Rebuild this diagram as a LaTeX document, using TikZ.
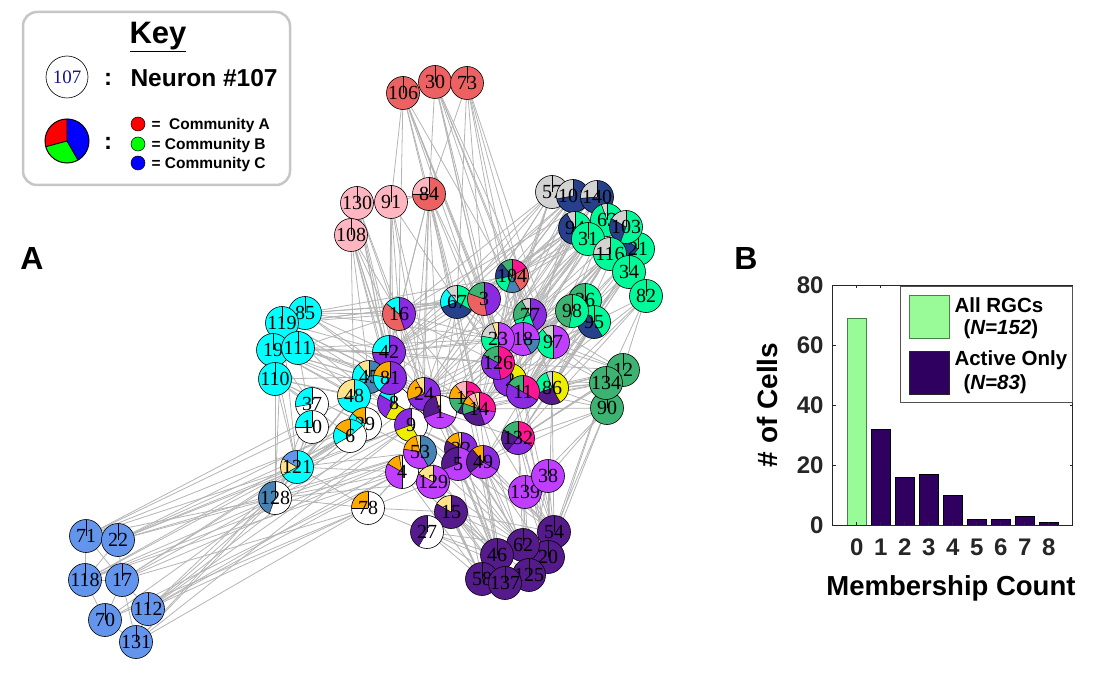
\documentclass[tikz,border=0pt]{standalone}
\usepackage{fontspec}
\setmainfont{Liberation Serif}
\newfontfamily\arialf{Liberation Sans}
\usetikzlibrary{backgrounds}
\definecolor{cr}{RGB}{236,98,98}
\definecolor{cpk}{RGB}{255,182,193}
\definecolor{cgy}{RGB}{211,211,211}
\definecolor{cdb}{RGB}{39,64,139}
\definecolor{csg}{RGB}{0,250,154}
\definecolor{cmsg}{RGB}{60,179,113}
\definecolor{ccy}{RGB}{0,255,255}
\definecolor{cw}{RGB}{255,255,255}
\definecolor{csb}{RGB}{70,130,180}
\definecolor{ccb}{RGB}{100,149,237}
\definecolor{cpu}{RGB}{138,43,226}
\definecolor{cpl}{RGB}{191,62,255}
\definecolor{cp4}{RGB}{85,26,139}
\definecolor{corg}{RGB}{255,170,0}
\definecolor{cky}{RGB}{255,228,140}
\definecolor{cye}{RGB}{238,238,0}
\definecolor{cdp}{RGB}{255,20,147}
\definecolor{edgec}{RGB}{180,180,180}
\definecolor{axc}{RGB}{38,38,38}
\definecolor{barg}{RGB}{152,251,152}
\definecolor{bargd}{RGB}{70,130,70}
\definecolor{barp}{RGB}{48,0,96}
\definecolor{navyt}{RGB}{20,20,140}
\def\pieR{16.5}
\newcommand\pienode[3]{%
  \begin{scope}[shift={(#2)}]
    \foreach \c/\a/\b in {#3}{\fill[\c] (0,0) -- (\a:\pieR) arc[start angle=\a,end angle=\b,radius=\pieR] -- cycle;}
    \foreach \c/\a/\b in {#3}{\draw[wedgeline] (0,0) -- (\a:\pieR);}
  \end{scope}
  \node[pien] (n#1) at (#2) {#1};
}
\tikzset{
  pien/.style={circle, draw=black, line width=0.6pt, minimum size=33pt, inner sep=0pt, font=\fontsize{20}{20}\selectfont},
  wedgeline/.style={draw=black, line width=0.5pt},
  edge/.style={draw=edgec, line width=0.8pt},
  boldsans/.style={font=\arialf\bfseries\fontsize{#1}{#1}\selectfont},
}
\begin{document}
\begin{tikzpicture}[x=1pt,y=1pt]
\useasboundingbox (0,0) rectangle (1095,-695);

% ---------- network nodes ----------
\pienode{106}{403,-93}{cr/90/450}
\pienode{30}{435,-82}{cr/90/450}
\pienode{73}{467,-83}{cr/90/450}
\pienode{130}{357,-203}{cpk/90/450}
\pienode{91}{391,-202}{cpk/90/450}
\pienode{108}{351,-235}{cpk/90/450}
\pienode{84}{429,-194}{cpk/90/180,cr/180/450}
\pienode{57}{552,-192}{cgy/90/450}
\pienode{101}{573,-196}{cgy/90/190,cdb/190/450}
\pienode{140}{597,-197}{cgy/90/185,cdb/185/450}
\pienode{21}{638,-249}{csg/90/140,cdb/140/230,csg/230/450}
\pienode{63}{607,-220}{cgy/90/110,csg/110/450}
\pienode{103}{626,-227}{cgy/90/150,cdb/150/250,csg/250/450}
\pienode{94}{575,-228}{cgy/90/120,cdb/120/290,csg/290/450}
\pienode{31}{588,-239}{csg/90/450}
\pienode{116}{610,-254}{cgy/90/180,csg/180/450}
\pienode{34}{629,-272}{csg/90/450}
\pienode{82}{646,-296}{csg/90/450}
\pienode{26}{585,-300}{cmsg/90/270,csg/270/450}
\pienode{95}{594,-322}{csg/90/130,cdb/130/300,csg/300/450}
\pienode{98}{572,-311}{cmsg/90/260,csg/260/450}
\pienode{104}{512,-276}{cmsg/90/130,cdb/130/190,csg/190/250,csb/250/300,cr/300/390,cdp/390/450}
\pienode{67}{457,-302}{cgy/90/130,ccy/130/200,cdb/200/330,csg/330/450}
\pienode{3}{484,-299}{cmsg/90/160,cr/160/280,cpu/280/450}
\pienode{77}{530,-315}{cgy/90/120,cmsg/120/200,csg/200/290,cpu/290/450}
\pienode{16}{399,-314}{ccy/90/140,cr/140/290,cpu/290/450}
\pienode{97}{553,-342}{cgy/90/130,csg/130/270,cpl/270/450}
\pienode{18}{523,-339}{cpl/90/300,csb/300/360,cpl/360/450}
\pienode{23}{498,-339}{cky/90/110,cgy/110/170,csg/170/270,cpl/270/450}
\pienode{2}{510,-380}{cpu/90/360,cye/360/450}
\pienode{126}{498,-363}{cmsg/90/150,cpu/150/280,cdp/280/450}
\pienode{86}{552,-388}{cgy/90/110,csg/110/200,cp4/200/300,cye/300/450}
\pienode{11}{523,-392}{cmsg/90/150,cpu/150/330,cdp/330/450}
\pienode{12}{623,-370}{cmsg/90/450}
\pienode{90}{607,-408}{cmsg/90/450}
\pienode{134}{606,-383}{cmsg/90/450}
\pienode{85}{305,-313}{ccy/90/450}
\pienode{119}{282,-323}{ccy/90/450}
\pienode{19}{273,-350}{ccy/90/450}
\pienode{111}{298,-348}{ccy/90/450}
\pienode{110}{275,-379}{ccy/90/450}
\pienode{42}{389,-352}{ccy/90/180,cpu/180/450}
\pienode{8}{394,-403}{ccy/90/150,cpu/150/240,cye/240/330,cw/330/450}
\pienode{45}{369,-377}{cky/90/130,ccy/130/230,csb/230/450}
\pienode{81}{390,-378}{corg/90/170,ccy/170/230,cpu/230/450}
\pienode{48}{354,-396}{cky/90/190,ccy/190/450}
\pienode{37}{312,-404}{ccy/90/190,cw/190/450}
\pienode{10}{312,-427}{ccy/90/180,cw/180/450}
\pienode{29}{365,-424}{corg/90/140,ccy/140/250,cw/250/450}
\pienode{6}{350,-436}{corg/90/150,ccy/150/210,cw/210/400,ccy/400/450}
\pienode{24}{424,-394}{cky/90/120,corg/120/200,cpu/200/450}
\pienode{9}{411,-425}{cpu/90/200,cye/200/300,cw/300/450}
\pienode{1}{440,-412}{cky/90/105,cp4/105/200,cpl/200/340,cw/340/450}
\pienode{13}{466,-398}{cpk/90/130,corg/130/180,cmsg/180/240,cp4/240/330,cdp/330/450}
\pienode{14}{479,-409}{cky/90/105,cpk/105/130,corg/130/160,cmsg/160/200,cp4/200/290,cpl/290/350,cdp/350/450}
\pienode{132}{518,-438}{cmsg/90/150,cp4/150/230,cpu/230/330,cdp/330/450}
\pienode{121}{297,-467}{ccb/90/150,cky/150/210,ccy/210/450}
\pienode{128}{275,-498}{csb/90/250,cw/250/450}
\pienode{4}{402,-472}{cky/90/100,corg/100/150,cpl/150/270,cw/270/450}
\pienode{53}{420,-452}{cky/90/105,corg/105/170,cpl/170/300,csb/300/450}
\pienode{32}{461,-449}{cky/90/100,corg/100/150,cp4/150/250,cpu/250/450}
\pienode{5}{458,-464}{cp4/90/200,cpl/200/450}
\pienode{49}{483,-462}{corg/90/130,cp4/130/220,cpl/220/330,cpu/330/450}
\pienode{129}{433,-482}{cky/90/150,cpl/150/450}
\pienode{139}{525,-492}{cpl/90/450}
\pienode{38}{548,-476}{cpl/90/450}
\pienode{78}{368,-508}{corg/90/180,cw/180/450}
\pienode{15}{451,-512}{cky/90/150,cp4/150/450}
\pienode{27}{427,-532}{cp4/90/240,cw/240/450}
\pienode{54}{554,-532}{cp4/90/450}
\pienode{20}{548,-557}{cp4/90/450}
\pienode{62}{523,-545}{cp4/90/450}
\pienode{46}{497,-555}{cp4/90/450}
\pienode{125}{529,-575}{cp4/90/450}
\pienode{58}{482,-579}{cp4/90/450}
\pienode{137}{505,-583}{cp4/90/450}
\pienode{71}{86,-536}{ccb/90/450}
\pienode{22}{118,-540}{ccb/90/450}
\pienode{118}{85,-580}{ccb/90/450}
\pienode{17}{122,-580}{ccb/90/450}
\pienode{112}{148,-609}{ccb/90/450}
\pienode{70}{105,-620}{ccb/90/450}
\pienode{131}{136,-642}{ccb/90/450}

% ---------- edges ----------
\begin{pgfonlayer}{background}
\foreach \s/\tl in {
 106/{91,84,16,3,23,77,126,11,14},
 30/{84,3,23,18,126,104,77,97},
 73/{84,3,67,97,86,11,18},
 84/{16,42,24,1,14,23,67,126,9,53,49,130,91},
 91/{16,42,24,1,8,67,81,130},
 130/{16,42,81,24,9,8,108},
 108/{16,42,45,81,8,24,53,48},
 57/{67,3,23,126,16,42,24,14,101},
 101/{67,104,3,23,126,11,24,42,140},
 140/{104,3,77,126,14,1,16},
 94/{67,3,23,18,126,42,81,24},
 63/{104,77,18,11,14,132},
 103/{77,97,86,11,14,49},
 31/{67,3,23,126,24,1,13,2},
 21/{97,86,11,2,132},
 116/{77,18,126,2,11,14,1},
 34/{97,86,11,132,49},
 82/{97,86,11,132,12,134},
 26/{23,126,2,11,14,9,24,42},
 98/{23,126,18,11,1,8},
 95/{97,86,11,2,132,14},
 119/{16,42,81,45,48,67,3,24,9,121,128},
 85/{16,42,67,3,104,23,81,24},
 19/{42,45,48,8,9,1,14,37,121},
 111/{16,42,81,24,126,23,13,10},
 110/{48,45,8,6,29,53,121,128,37},
 71/{22,118,17,128,121,10,29,48},
 22/{17,118,128,121,6,9,8,53},
 118/{17,70,128,121,29,53,4},
 17/{70,112,131,128,121,6,53,78},
 112/{131,128,121,4,9,24,53,78},
 70/{131,128,78,4},
 131/{128,121,78,9},
 128/{121,78,37,10,6,29,48,9,53,4,129},
 121/{37,10,6,29,48,45,81,8,9,53,4,78},
 78/{27,4,129,15,53},
 54/{15,5,32,49,132,38,139,11,86,2,14,1,134,90},
 62/{15,27,5,32,49,129,53,132,139,9,1},
 46/{15,27,5,32,49,129,4,53,14,13},
 20/{38,139,132,11,86,2,49,90,134},
 125/{15,27,49,132,139,38,14},
 58/{27,15,5,129,4,53,9},
 137/{27,15,5,49,129,32,1},
 12/{97,86,11,132,18,77,126,14,49},
 134/{97,86,11,132,18,2,1,14},
 90/{86,11,132,49,139,38,14},
 16/{42,81,24,67,3,104,23,126,1,9,14},
 42/{81,24,67,3,23,18,126,14,9,8},
 67/{3,104,23,126,24,1,14,11},
 3/{104,23,18,77,126,24,1,14,11,2},
 104/{23,18,77,97,126,11,14},
 24/{1,14,13,9,53,32,5,49,126,2,11},
 9/{1,53,4,129,32,5,49,14},
 1/{14,13,53,32,5,49,132,11},
 77/{18,97,126,11,86,14}}{
  \foreach \t in \tl {\draw[edge] (n\s.center) -- (n\t.center);}
}
\end{pgfonlayer}

% ---------- key ----------
\draw[draw=gray!45, line width=2.5pt, rounded corners=14pt] (23,-12) rectangle (290,-185);
\node[boldsans=31, anchor=center] (keyt) at (158,-37) {\underline{Key}};
\node[circle, draw=black, line width=0.6pt, minimum size=42pt, inner sep=0pt, font=\fontsize{19}{19}\selectfont, text=navyt] (k107) at (67,-77) {107};
\node[boldsans=24] (kc1) at (108,-79) {:};
\node[boldsans=24.5, anchor=west] (kneu) at (127,-78) {Neuron \#107};
\begin{scope}[shift={(67,-141)}]
  \fill[red] (0,0) -- (90:22) arc[start angle=90,end angle=195,radius=22] -- cycle;
  \fill[green] (0,0) -- (195:22) arc[start angle=195,end angle=300,radius=22] -- cycle;
  \fill[blue] (0,0) -- (300:22) arc[start angle=300,end angle=450,radius=22] -- cycle;
  \draw[line width=0.9pt] (0,0) -- (90:22) (0,0) -- (195:22) (0,0) -- (300:22);
\end{scope}
\node[circle, draw=black, line width=1pt, minimum size=44pt, inner sep=0pt] (kpie) at (67,-141) {};
\node[boldsans=24] (kc2) at (108,-143) {:};
\node[circle, fill=red, draw=black, line width=0.5pt, minimum size=14pt, inner sep=0pt] (kdA) at (138,-124) {};
\node[circle, fill=green, draw=black, line width=0.5pt, minimum size=14pt, inner sep=0pt] (kdB) at (138,-144) {};
\node[circle, fill=blue, draw=black, line width=0.5pt, minimum size=14pt, inner sep=0pt] (kdC) at (138,-163) {};
\node[boldsans=15.5, anchor=west] (ktA) at (148,-125) {=\ \ Community A};
\node[boldsans=15.5, anchor=west] (ktB) at (148,-145) {=\ Community B};
\node[boldsans=15.5, anchor=west] (ktC) at (148,-164) {=\ Community C};

% ---------- panel labels ----------
\node[boldsans=32] (labA) at (32,-258) {A};
\node[boldsans=32] (labB) at (746,-258) {B};

% ---------- bar chart ----------
\fill[barg] (847.1,-525) rectangle (866.3,-318);
\draw[bargd, line width=0.8pt] (847.1,-525) rectangle (866.3,-318);
\foreach \i/\h in {1/32,2/16,3/17,4/10,5/2,6/2,7/3,8/1}{
  \fill[barp] ({856.7+24*\i-9.6},-525) rectangle ({856.7+24*\i+9.6},{-525+3*\h});
  \draw[black, line width=0.5pt] ({856.7+24*\i-9.6},-525) rectangle ({856.7+24*\i+9.6},{-525+3*\h});
}
\draw[axc, line width=0.9pt] (832.5,-285) rectangle (1072.5,-525);
\foreach \v in {0,20,40,60,80}{
  \draw[axc, line width=0.7pt] (832.5,{-525+3*\v}) -- ++(3,0);
  \draw[axc, line width=0.7pt] (1072.5,{-525+3*\v}) -- ++(-3,0);
  \node[boldsans=24, text=axc, anchor=east] at (827,{-525+3*\v}) {\v};
}
\foreach \i in {0,...,8}{
  \draw[axc, line width=0.7pt] ({856.7+24*\i},-285) -- ++(0,-3);
  \draw[axc, line width=0.7pt] ({856.7+24*\i},-525) -- ++(0,3);
  \node[boldsans=24, text=axc] at ({856.7+24*\i},-547) {\i};
}
\draw[axc!80, line width=0.9pt, fill=white] (900.7,-286) rectangle (1072.5,-402.7);
\fill[barg] (909,-295) rectangle (949,-338);
\draw[bargd, line width=0.8pt] (909,-295) rectangle (949,-338);
\fill[barp] (909,-351) rectangle (949,-394);
\draw[axc, line width=0.8pt] (909,-351) rectangle (949,-394);
\node[boldsans=20.5, anchor=west] (lg1) at (951,-305) {All RGCs};
\node[boldsans=20.5, anchor=west] (lg2) at (960,-329) {(\itshape N=152\upshape)};
\node[boldsans=20.5, anchor=west] (lg3) at (951,-360) {Active Only};
\node[boldsans=20.5, anchor=west] (lg4) at (960,-384) {(\itshape N=83\upshape)};
\node[boldsans=27.5] (xlab) at (951,-588) {Membership Count};
\node[boldsans=28, rotate=90] (ylab) at (767,-405) {\# of Cells};
\end{tikzpicture}
\end{document}
